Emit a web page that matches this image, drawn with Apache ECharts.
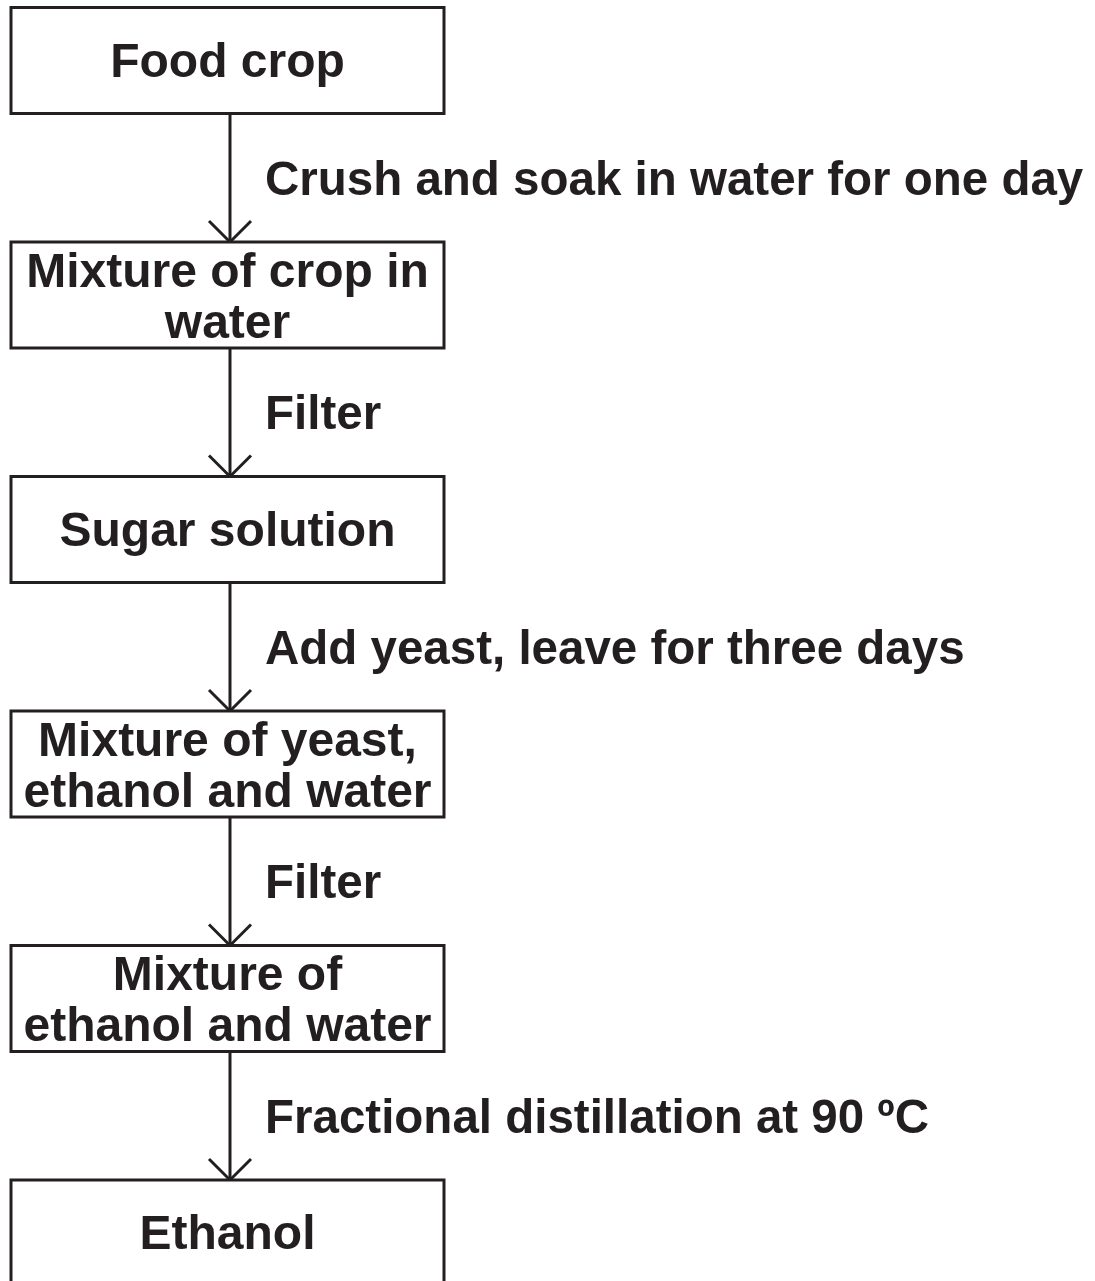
<!DOCTYPE html>
<html lang="en">

<head>
    <meta charset="UTF-8">
    <title>Ethanol from a food crop</title>
    <style>
        html, body { margin: 0; padding: 0; background: #fff; }
        #main { width: 1095px; height: 1281px; }
    </style>
</head>

<body>
    <div id="main"></div>

    <script src="https://cdn.jsdelivr.net/npm/echarts@6/dist/echarts.min.js"></script>
    <script>
        // steps of the process (boxes), top to bottom
        var steps = [
            'Food crop',
            'Mixture of crop in\nwater',
            'Sugar solution',
            'Mixture of yeast,\nethanol and water',
            'Mixture of\nethanol and water',
            'Ethanol'
        ];
        // what is done between one step and the next (arrow labels)
        var actions = [
            'Crush and soak in water for one day',
            'Filter',
            'Add yeast, leave for three days',
            'Filter',
            'Fractional distillation at 90 ºC'
        ];

        var ink = '#231f20';
        var font = '"Liberation Sans", Arial, sans-serif';

        var chart = echarts.init(document.getElementById('main'));

        // box geometry in axis units (x axis is pixel-like, y axis counts steps)
        var boxLeft = 11, boxRight = 444, arrowX = 230, labelX = 265;
        var boxHalf = 0.226; // half box height, in steps

        function renderBox(params, api) {
            var i = api.value(0);
            var tl = api.coord([boxLeft, i - boxHalf]);
            var br = api.coord([boxRight, i + boxHalf]);
            var c = api.coord([(boxLeft + boxRight) / 2, i]);
            var text = steps[i];
            var lines = text.split('\n').length;
            return {
                type: 'group',
                children: [{
                    type: 'rect',
                    shape: { x: tl[0], y: tl[1], width: br[0] - tl[0], height: br[1] - tl[1] },
                    style: { fill: '#fff', stroke: ink, lineWidth: 3 }
                }, {
                    type: 'text',
                    style: {
                        text: text,
                        x: c[0],
                        y: c[1] + (lines > 1 ? 4 : 3),
                        fill: ink,
                        fontSize: 48,
                        fontWeight: 'bold',
                        fontFamily: font,
                        lineHeight: 51,
                        align: 'center',
                        verticalAlign: 'middle'
                    }
                }]
            };
        }

        function renderArrow(params, api) {
            var i = api.value(0);
            var from = api.coord([arrowX, i + boxHalf]);
            var to = api.coord([arrowX, i + 1 - boxHalf]);
            var mid = api.coord([labelX, i + 0.5]);
            var h = 21;
            return {
                type: 'group',
                children: [{
                    type: 'line',
                    shape: { x1: from[0], y1: from[1], x2: to[0], y2: to[1] },
                    style: { stroke: ink, lineWidth: 3 }
                }, {
                    type: 'polyline',
                    shape: { points: [[to[0] - h, to[1] - h], [to[0], to[1]], [to[0] + h, to[1] - h]] },
                    style: { fill: 'none', stroke: ink, lineWidth: 3 }
                }, {
                    type: 'text',
                    style: {
                        text: actions[i],
                        x: mid[0],
                        y: mid[1] + 4,
                        fill: ink,
                        fontSize: 47.5,
                        fontWeight: 'bold',
                        fontFamily: font,
                        align: 'left',
                        verticalAlign: 'middle'
                    }
                }]
            };
        }

        // step 0 centre sits at 60.5px, one step = 234.5px
        var yMin = -60.5 / 234.5;
        var yMax = yMin + 1281 / 234.5;

        var option = {
            animation: false,
            grid: { left: 0, right: 0, top: 0, bottom: 0 },
            xAxis: { type: 'value', min: 0, max: 1095, show: false },
            yAxis: { type: 'value', min: yMin, max: yMax, inverse: true, show: false },
            series: [{
                type: 'custom',
                name: 'arrows',
                renderItem: renderArrow,
                data: actions.map(function (a, i) { return [i]; }),
                silent: true
            }, {
                type: 'custom',
                name: 'steps',
                renderItem: renderBox,
                data: steps.map(function (s, i) { return [i]; }),
                silent: true
            }]
        };

        chart.setOption(option);
    </script>
</body>

</html>
